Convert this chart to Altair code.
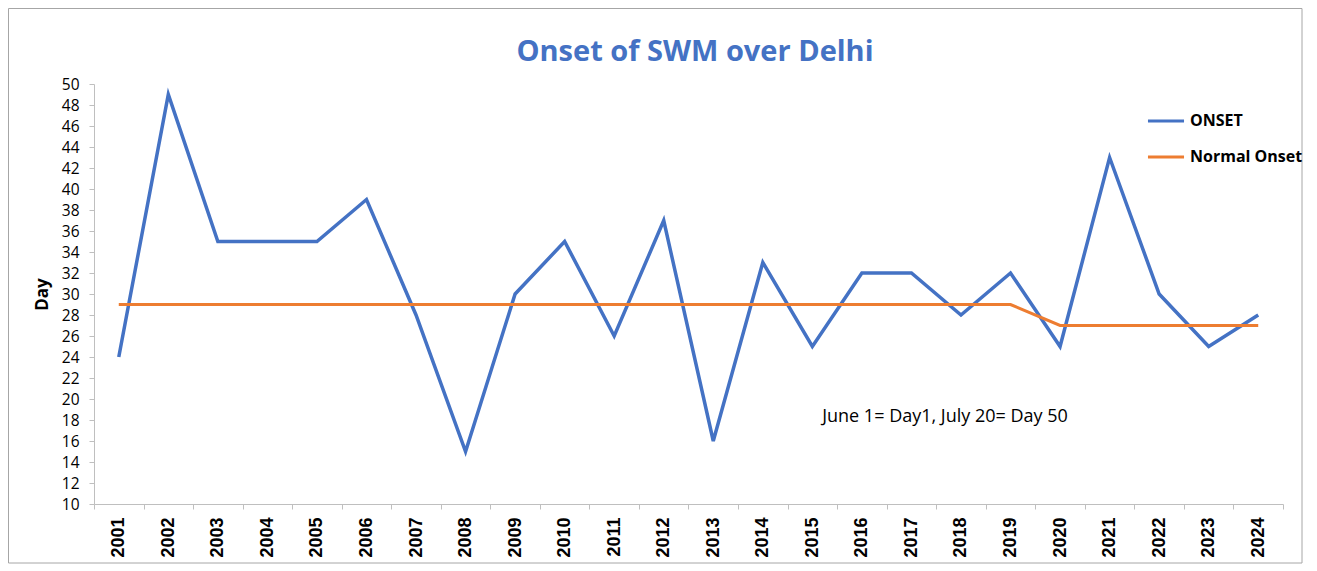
import altair as alt
import pandas as pd

years = [str(y) for y in range(2001, 2025)]
onset = [24, 49, 35, 35, 35, 39, 28, 15, 30, 35, 26, 37, 16, 33, 25, 32, 32, 28, 32, 25, 43, 30, 25, 28]
normal = [29] * 19 + [27] * 5
series_names = ["ONSET", "Normal Onset"]
series_colors = ["#4472C4", "#ED7D31"]
y_ticks = list(range(10, 51, 2))

df_on = pd.DataFrame({"year": years, "value": onset, "series": series_names[0]})
df_no = pd.DataFrame({"year": years, "value": normal, "series": series_names[1]})

color = alt.Color(
    "series:N",
    scale=alt.Scale(domain=series_names, range=series_colors),
    legend=alt.Legend(
        title=None, orient="none", legendX=1052, legendY=17,
        symbolType="stroke", symbolSize=1300, symbolStrokeWidth=3,
        labelFont="Open Sans", labelFontWeight="bold", labelFontSize=16,
        labelColor="#000000", labelOffset=4, rowPadding=8, padding=0,
    ),
)

x = alt.X(
    "year:O", sort=years, title=None,
    scale=alt.Scale(type="band", paddingInner=0, paddingOuter=0),
    bandPosition=0.5,
    axis=alt.Axis(
        labelAngle=270, labelAlign="right", labelBaseline="middle",
        labelFont="Liberation Sans", labelFontWeight="bold", labelFontSize=18,
        labelColor="#000000", labelPadding=8, tickBand="extent",
        tickSize=5, tickColor="#BFBFBF", domainColor="#BFBFBF", grid=False,
    ),
)
y = alt.Y(
    "value:Q",
    scale=alt.Scale(domain=[10, 50], nice=False, zero=False),
    axis=alt.Axis(
        values=y_ticks, title="Day", titleFont="Open Sans", titleFontWeight="bold",
        titleFontSize=17, titleColor="#000000", titleAngle=270,
        titleX=-52, titleY=210, titleAlign="center", titleBaseline="middle",
        labelFont="Open Sans", labelFontSize=15.5, labelColor="#000000",
        labelPadding=10, tickSize=5, tickColor="#BFBFBF", domainColor="#BFBFBF",
        grid=False,
    ),
)

border = alt.Chart(pd.DataFrame({"a": [0]})).mark_rect(
    fill="transparent", stroke="#A6A6A6", strokeWidth=1, clip=False
).encode(x=alt.value(-85.5), x2=alt.value(1208), y=alt.value(-75.5), y2=alt.value(479))

line_on = alt.Chart(df_on).mark_line(strokeWidth=3.5).encode(x=x, y=y, color=color)
line_no = alt.Chart(df_no).mark_line(strokeWidth=3).encode(x=x, y=y, color=color)

title = alt.Chart(pd.DataFrame({"t": ["Onset of SWM over Delhi"]})).mark_text(
    font="Open Sans", fontSize=29, fontWeight="bold", color="#4472C4",
    align="center", baseline="middle"
).encode(text="t:N", x=alt.value(601), y=alt.value(-32))

note = alt.Chart(pd.DataFrame({"t": ["June 1= Day1, July 20= Day 50"]})).mark_text(
    font="Open Sans", fontSize=18, color="#000000", align="center", baseline="middle"
).encode(text="t:N", x=alt.value(851), y=alt.value(333))

chart = alt.layer(border, line_on, line_no, title, note).properties(
    width=1189, height=420,
    autosize=alt.AutoSizeParams(type="none"),
    padding={"left": 86, "top": 76, "right": 20, "bottom": 62},
).configure_view(strokeWidth=0)

chart.save("out.html", embed_options={"renderer": "svg", "actions": False})
